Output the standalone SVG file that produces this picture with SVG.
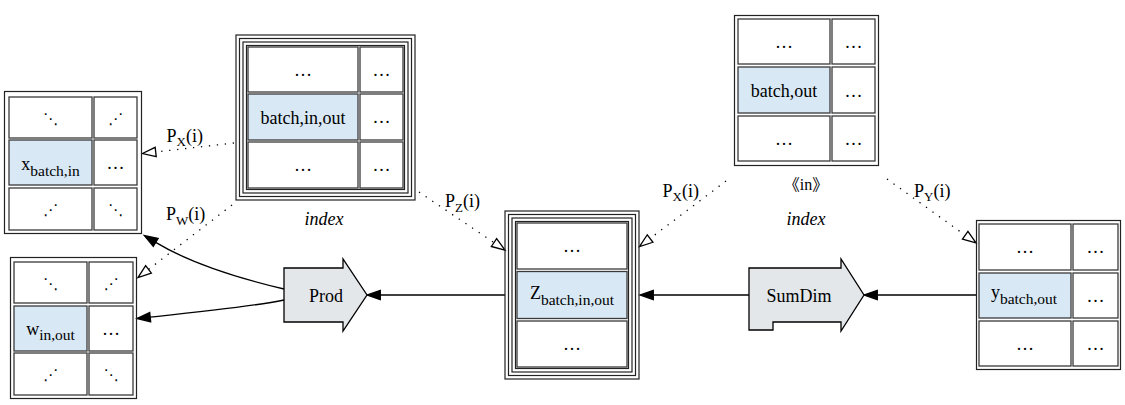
<svg xmlns="http://www.w3.org/2000/svg" width="1125" height="405" viewBox="0 0 1125 405">
<style>
.cell{fill:#fff;stroke:#3a3a3a;stroke-width:1.3}
.hl{fill:#d8e8f5}
.tb{fill:none;stroke:#222;stroke-width:1.2}
.t{font-family:"Liberation Serif","DejaVu Serif",serif;font-size:18px;text-anchor:middle;fill:#000}
.d{font-family:"DejaVu Serif","DejaVu Sans",serif;font-size:15px;text-anchor:middle;fill:#000}
.sub{font-size:15.5px}
.lbl{font-family:"Liberation Serif","DejaVu Serif",serif;font-size:18px;fill:#000}
.ls{font-size:13px}
.it{font-style:italic}
.cjk{font-family:"Liberation Serif","Noto Sans CJK SC",serif;font-size:16px;text-anchor:middle}
.shape{fill:#e4e7ea;stroke:#000;stroke-width:1.3}
.edge{fill:none;stroke:#000;stroke-width:1.3}
.dot{stroke-dasharray:1.3 6.7}
</style>
<defs>
<marker id="af" markerWidth="15" markerHeight="12" refX="0" refY="6" orient="auto" markerUnits="userSpaceOnUse" viewBox="0 0 15 12" overflow="visible">
<path d="M0,1.3 L13.3,6 L0,10.7 Z" fill="#000" stroke="#000" stroke-width="1.3"/>
</marker>
<marker id="ae" markerWidth="15" markerHeight="12" refX="0" refY="6" orient="auto" markerUnits="userSpaceOnUse" viewBox="0 0 15 12" overflow="visible">
<path d="M0,1.3 L13.3,6 L0,10.7 Z" fill="#fff" stroke="#000" stroke-width="1.3"/>
</marker>
</defs>

<g id="connectors">
<path class="edge" d="M505,295 L380.3,295" marker-end="url(#af)"/>
<path class="edge" d="M749,295 L653.3,295" marker-end="url(#af)"/>
<path class="edge" d="M976,295 L877.3,295" marker-end="url(#af)"/>
<path class="edge" d="M284,289 C250,281 195,266 155.7,242.4" marker-end="url(#af)"/>
<path class="edge" d="M284,300 C250,307 190,313 150.2,317.1" marker-end="url(#af)"/>
<path class="edge dot" d="M234,143 L155.7,152" marker-end="url(#ae)"/>
<path class="edge dot" d="M232,205 L148.5,269.4" marker-end="url(#ae)"/>
<path class="edge dot" d="M419,192 L494,242.6" marker-end="url(#ae)"/>
<path class="edge dot" d="M726,181 L650.1,238.5" marker-end="url(#ae)"/>
<path class="edge dot" d="M887,179 L965.2,235.2" marker-end="url(#ae)"/>
<text class="lbl" x="166.5" y="142">P<tspan class="ls" dy="3.5">X</tspan><tspan dy="-3.5">(i)</tspan></text>
<text class="lbl" x="166" y="220">P<tspan class="ls" dy="4.5">W</tspan><tspan dy="-4.5">(i)</tspan></text>
<text class="lbl" x="445" y="207">P<tspan class="ls" dy="4.5">Z</tspan><tspan dy="-4.5">(i)</tspan></text>
<text class="lbl" x="662.5" y="197">P<tspan class="ls" dy="4">X</tspan><tspan dy="-4">(i)</tspan></text>
<text class="lbl" x="914" y="197">P<tspan class="ls" dy="4">Y</tspan><tspan dy="-4">(i)</tspan></text>
</g>

<g id="x_table">
<rect class="tb" x="4.5" y="91.5" width="137" height="142"/>
<rect class="cell" x="9" y="97" width="83" height="41"/>
<rect class="cell" x="94" y="97" width="43" height="41"/>
<rect class="cell hl" x="9" y="140" width="83" height="45"/>
<rect class="cell" x="94" y="140" width="43" height="45"/>
<rect class="cell" x="9" y="188" width="83" height="42"/>
<rect class="cell" x="94" y="188" width="43" height="42"/>
<text class="d" x="50.5" y="123.5">⋱</text>
<text class="d" x="115.5" y="123.5">⋰</text>
<text class="t" x="50.5" y="170">x<tspan class="sub" dy="6">batch,in</tspan></text>
<text class="t" x="115.5" y="168.5">…</text>
<text class="d" x="50.5" y="215">⋰</text>
<text class="d" x="115.5" y="215">⋱</text>
</g>

<g id="w_table">
<rect class="tb" x="10.5" y="257.5" width="126" height="141"/>
<rect class="cell" x="14" y="262" width="73" height="41"/>
<rect class="cell" x="89" y="262" width="44" height="41"/>
<rect class="cell hl" x="14" y="306" width="73" height="45"/>
<rect class="cell" x="89" y="306" width="44" height="45"/>
<rect class="cell" x="14" y="353" width="73" height="42"/>
<rect class="cell" x="89" y="353" width="44" height="42"/>
<text class="d" x="50.5" y="288.5">⋱</text>
<text class="d" x="111" y="288.5">⋰</text>
<text class="t" x="50.5" y="335">w<tspan class="sub" dy="5">in,out</tspan></text>
<text class="t" x="111" y="334.5">…</text>
<text class="d" x="50.5" y="380">⋰</text>
<text class="d" x="111" y="380">⋱</text>
</g>

<g id="index_bio">
<rect class="tb" x="236" y="35" width="179" height="165"/>
<rect class="tb" x="239.5" y="38.5" width="172" height="158"/>
<rect class="tb" x="243" y="42" width="165" height="151"/>
<rect class="tb" x="246.5" y="45.5" width="158" height="144"/>
<rect class="cell" x="248" y="47" width="110" height="45"/>
<rect class="cell" x="360" y="47" width="43" height="45"/>
<rect class="cell hl" x="248" y="94" width="110" height="46"/>
<rect class="cell" x="360" y="94" width="43" height="46"/>
<rect class="cell" x="248" y="142" width="110" height="46"/>
<rect class="cell" x="360" y="142" width="43" height="46"/>
<text class="t" x="303" y="75.5">…</text>
<text class="t" x="381.5" y="75.5">…</text>
<text class="t" x="303" y="124">batch,in,out</text>
<text class="t" x="381.5" y="123">…</text>
<text class="t" x="303" y="171">…</text>
<text class="t" x="381.5" y="171">…</text>
<text class="t it" x="324" y="225">index</text>
</g>

<g id="prod">
<path class="shape" d="M284,268 L343,268 L343,259 L367,295 L343,331 L343,322 L284,322 Z"/>
<text class="t" x="326" y="302">Prod</text>
</g>

<g id="z_table">
<rect class="tb" x="505" y="211" width="134" height="168"/>
<rect class="tb" x="508.5" y="214.5" width="127" height="161"/>
<rect class="tb" x="512" y="218" width="120" height="154"/>
<rect class="tb" x="515.5" y="221.5" width="113" height="147"/>
<rect class="cell" x="517" y="223" width="110" height="46"/>
<rect class="cell hl" x="517" y="271.5" width="110" height="47"/>
<rect class="cell" x="517" y="321" width="110" height="46"/>
<text class="t" x="572" y="252">…</text>
<text class="t" x="572" y="298.5">Z<tspan class="sub" dy="6.5">batch,in,out</tspan></text>
<text class="t" x="572" y="349.5">…</text>
</g>

<g id="index_bo">
<rect class="tb" x="734.5" y="15.5" width="144" height="150"/>
<rect class="cell" x="738" y="19" width="92" height="45"/>
<rect class="cell" x="832" y="19" width="43" height="45"/>
<rect class="cell hl" x="738" y="67" width="92" height="46"/>
<rect class="cell" x="832" y="67" width="43" height="46"/>
<rect class="cell" x="738" y="116" width="92" height="45"/>
<rect class="cell" x="832" y="116" width="43" height="45"/>
<text class="t" x="784" y="47.5">…</text>
<text class="t" x="853.5" y="47.5">…</text>
<text class="t" x="784" y="96.5">batch,out</text>
<text class="t" x="853.5" y="96.5">…</text>
<text class="t" x="784" y="144.5">…</text>
<text class="t" x="853.5" y="144.5">…</text>
<text class="cjk" x="806" y="190">《in》</text>
<text class="t it" x="806" y="225">index</text>
</g>

<g id="sumdim">
<path class="shape" d="M749,268 L841,268 L841,259 L864,295 L841,331 L841,322 L773,322 L773,330 L749,330 Z"/>
<text class="t" x="799" y="302">SumDim</text>
</g>

<g id="y_table">
<rect class="tb" x="976.5" y="220.5" width="144" height="149"/>
<rect class="cell" x="979" y="224" width="92" height="46"/>
<rect class="cell" x="1073" y="224" width="45" height="46"/>
<rect class="cell hl" x="979" y="273" width="92" height="45"/>
<rect class="cell" x="1073" y="273" width="45" height="45"/>
<rect class="cell" x="979" y="321" width="92" height="45"/>
<rect class="cell" x="1073" y="321" width="45" height="45"/>
<text class="t" x="1025" y="253">…</text>
<text class="t" x="1095.5" y="253">…</text>
<text class="t" x="1024" y="298">y<tspan class="sub" dy="6">batch,out</tspan></text>
<text class="t" x="1095.5" y="301.5">…</text>
<text class="t" x="1025" y="349.5">…</text>
<text class="t" x="1095.5" y="349.5">…</text>
</g>
</svg>
